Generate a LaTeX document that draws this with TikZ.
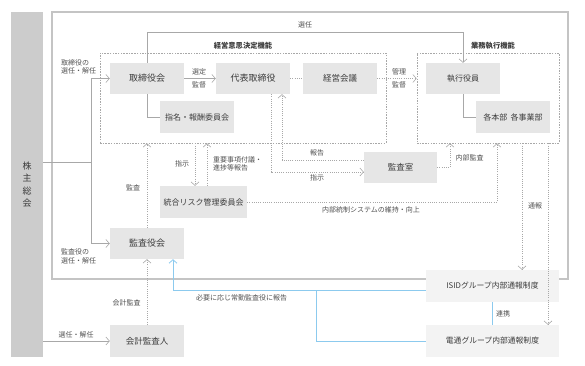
\documentclass[tikz,border=0pt]{standalone}
\usepackage{fontspec}
\setmainfont{Noto Sans CJK JP}
\usetikzlibrary{arrows.meta,calc}
\definecolor{boxgray}{HTML}{E6E6E6}
\definecolor{lightbox}{HTML}{F3F3F3}
\definecolor{barg}{HTML}{CCCCCC}
\definecolor{lineg}{HTML}{A8A8A8}
\definecolor{frameg}{HTML}{C4C4C4}
\definecolor{txt}{HTML}{3C3C3C}
\definecolor{lblc}{HTML}{505050}
\definecolor{blueline}{HTML}{8CCAEE}
\begin{document}
\begin{tikzpicture}[x=1pt,y=-1pt,
  box/.style={fill=boxgray, minimum width=74pt, minimum height=31pt, inner sep=0pt, text=txt, font=\fontsize{8.5}{10}\selectfont},
  lbox/.style={fill=lightbox, minimum width=133pt, minimum height=32pt, inner sep=0pt, text=txt, font=\fontsize{7.8}{9}\selectfont},
  lbl/.style={text=lblc, inner sep=0pt, font=\fontsize{7}{8.5}\selectfont},
  head/.style={text=txt, inner sep=0pt, font=\bfseries\fontsize{7.3}{8}\selectfont},
  ln/.style={draw=lineg, line width=0.6pt},
  dln/.style={draw=lineg, line width=0.6pt, dash pattern=on 1pt off 1.2pt},
  bln/.style={draw=blueline, line width=0.8pt},
  tip/.style={-{Straight Barb[length=3.5pt,width=8pt]}},
  dbox/.style={draw=lineg, line width=0.6pt, dash pattern=on 1.5pt off 1.2pt, inner sep=0pt}
]
\useasboundingbox (0,0) rectangle (585,365);

% outer frame
\node[draw=frameg, line width=1.1pt, minimum width=516pt, minimum height=267pt, inner sep=0pt] (frame) at (310,145.5) {};

% dashed function boxes
\node[dbox, minimum width=286pt, minimum height=90pt] (dkeiei) at (243,98) {};
\node[dbox, minimum width=142pt, minimum height=90pt] (dgyomu) at (488,98) {};
\node[head] (hkeiei) at (243,46) {経営意思決定機能};
\node[head] (hgyomu) at (493,46) {業務執行機能};

% shareholders bar
\node[fill=barg, minimum width=32pt, minimum height=345pt, inner sep=0pt, align=center, text=txt, font=\fontsize{9}{12.5}\selectfont] (kabu) at (27,184.5) {株\\主\\総\\会};

% boxes
\node[box, font=\fontsize{9}{10}\selectfont] (tori) at (147,78.5) {取締役会};
\node[box, font=\fontsize{9}{10}\selectfont] (daihyo) at (253,78.5) {代表取締役};
\node[box] (keiei) at (340,78.5) {経営会議};
\node[box, font=\fontsize{8}{10}\selectfont] (shikko) at (463,78.5) {執行役員};
\node[box, minimum height=32pt, font=\fontsize{8}{10}\selectfont] (kaku) at (513,117) {各本部\hspace{0.4em}各事業部};
\node[box, minimum height=32pt, font=\fontsize{8}{10}\selectfont] (shimei) at (197,117) {指名・報酬委員会};
\node[box, minimum width=73pt] (kshitsu) at (400.5,167.5) {監査室};
\node[box, minimum width=87pt, minimum height=32pt, font=\fontsize{8}{10}\selectfont] (togo) at (203.5,202) {統合リスク管理委員会};
\node[box, font=\fontsize{9}{10}\selectfont] (kansa) at (147,243.5) {監査役会};
\node[box, minimum height=32pt] (kaikei) at (147,341) {会計監査人};
\node[lbox] (isid) at (492.5,286) {ISIDグループ内部通報制度};
\node[lbox] (dentsu) at (492.5,341) {電通グループ内部通報制度};

% coordinates
\coordinate (j) at (91,162);
\coordinate (sel) at (300,32);
\coordinate (bj) at (316,290);

% shareholders' lines
\draw[ln] (kabu.east |- j) -- (j);
\draw[ln,tip] (j) |- (tori.west);
\draw[ln,tip] (j) |- (kansa.west);
\draw[ln,tip] (kabu.east |- kaikei.west) -- (kaikei.west);
\node[lbl, anchor=west, align=left] (l1) at (61,67) {取締役の\\選任・解任};
\node[lbl, anchor=west, align=left] (l2) at (61,256.5) {監査役の\\選任・解任};
\node[lbl] (l3) at (76,335) {選任・解任};

% 選任
\draw[ln,tip] (tori.north) -- (tori.north |- sel) -| (shikko.north);
\node[lbl] (l4) at (305,25) {選任};

% board lines
\draw[ln] (tori.south) |- (shimei.west);
\draw[ln] (shikko.south) |- (kaku.west);
\draw[ln,tip] (tori.east) -- (daihyo.west);
\node[lbl] (l5) at (199,72) {選定};
\node[lbl] (l6) at (199,85) {監督};
\draw[dln] (daihyo.east) -- (keiei.west);
\draw[dln,tip] (keiei.east) -- (keiei.east -| dgyomu.west);
\node[lbl] (l7) at (399,72) {管理};
\node[lbl] (l8) at (399,85) {監督};

% audit
\draw[dln,tip] (kansa.north) -- (kansa.north |- dkeiei.south);
\node[lbl] (l9) at (133,188) {監査};
\draw[dln,tip] (kaikei.north) -- (kansa.south);
\node[lbl] (l10) at (126.5,303) {会計監査};

% risk committee
\draw[dln,tip] ($(togo.north |- dkeiei.south)+(-8.5,0)$) -- ($(togo.north)+(-8.5,0)$);
\node[lbl] (l11) at (182,164) {指示};
\draw[dln,tip] ($(togo.north)+(3.5,0)$) -- ($(togo.north |- dkeiei.south)+(3.5,0)$);
\node[lbl, anchor=west, align=left] (l12) at (213,164) {重要事項付議・\\進捗等報告};

% audit office
\draw[dln,tip] ($(kshitsu.west)+(0,-7.5)$) -| ($(daihyo.south)+(29,0)$);
\node[lbl] (l13) at (317,153) {報告};
\draw[dln,tip] ($(daihyo.south)+(18,0)$) |- ($(kshitsu.west)+(0,4.5)$);
\node[lbl] (l14) at (317,178) {指示};
\draw[dln,tip] (kshitsu.east) -| ($(dgyomu.south)+(-38,0)$);
\node[lbl] (l15) at (469.5,158) {内部監査};

% internal control
\draw[dln,tip] (togo.east) -| ($(dgyomu.south)+(9,0)$);
\node[lbl] (l16) at (371,210) {内部統制システムの維持・向上};

% whistleblowing
\draw[dln,tip] ($(dgyomu.south)+(34,0)$) -- ($(isid.north)+(29.5,0)$);
\draw[dln,tip] ($(dgyomu.south)+(60,0)$) -- ($(dentsu.north)+(55.5,0)$);
\node[lbl] (l17) at (535,206) {通報};
\draw[bln] (isid.south) -- (dentsu.north);
\node[lbl] (l18) at (503,314) {連携};
\draw[bln,tip] ($(isid.west)+(0,4)$) -| ($(kansa.south)+(26,0)$);
\draw[bln] (dentsu.west) -| (bj);
\node[lbl] (l19) at (241.5,298) {必要に応じ常勤監査役に報告};
\end{tikzpicture}
\end{document}
